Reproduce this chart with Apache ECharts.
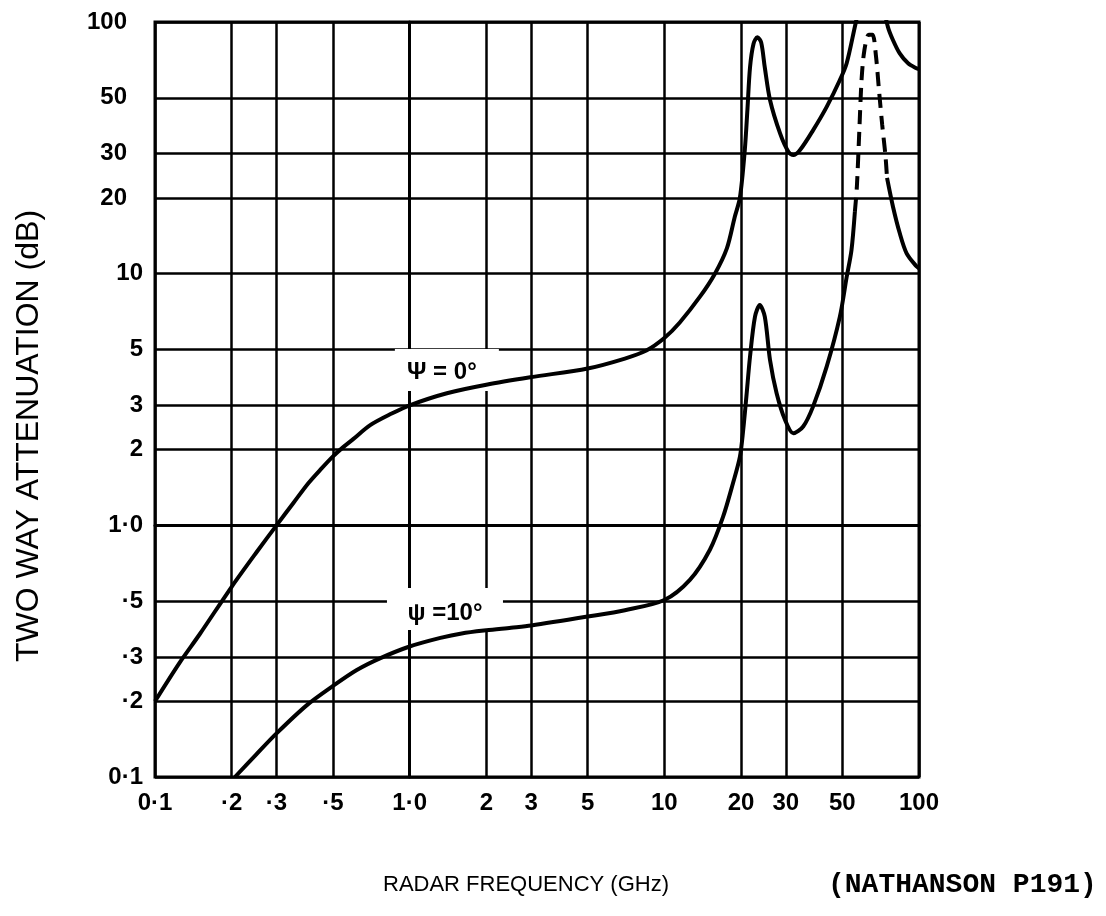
<!DOCTYPE html>
<html><head><meta charset="utf-8">
<script src="https://cdn.jsdelivr.net/npm/echarts@6/dist/echarts.min.js"></script>
<style>html,body{margin:0;padding:0;background:#fff}#c{width:1106px;height:916px}</style>
</head><body><div id="c"></div>
<script>
// ---- tick values and labels ----
const xTickValues = [0.1, 0.2, 0.3, 0.5, 1, 2, 3, 5, 10, 20, 30, 50, 100];
const xTickLabels = ['0·1', '·2', '·3', '·5', '1·0', '2', '3', '5', '10', '20', '30', '50', '100'];
const yTickValues = [0.1, 0.2, 0.3, 0.5, 1, 2, 3, 5, 10, 20, 30, 50, 100];
const yTickLabels = ['0·1', '·2', '·3', '·5', '1·0', '2', '3', '5', '10', '20', '30', '50', '100'];

// ---- psi = 0 deg curve (GHz, dB) ----
const psi0FreqA = [0.1, 0.125, 0.15, 0.2, 0.25, 0.3, 0.35, 0.4, 0.45, 0.5, 0.55, 0.6, 0.7, 0.85, 1.0, 1.4, 2, 3, 5, 7, 8.5, 10, 11.5, 13.8, 15.8, 17.6, 18.9, 19.8, 20.7, 21.2, 21.7, 22.4, 23.2, 24.0, 24.8, 26, 28.5, 30.7, 32.1, 34.1, 38.4, 43.4, 48.9, 52, 56, 59.4];
const psi0DbA   = [0.2, 0.285, 0.37, 0.57, 0.78, 1.0, 1.23, 1.47, 1.68, 1.88, 2.05, 2.2, 2.5, 2.78, 3.0, 3.35, 3.62, 3.88, 4.2, 4.6, 4.95, 5.55, 6.4, 8.1, 10, 12.6, 16.8, 20, 31, 45, 66, 82, 87, 83, 66, 49, 36, 30.5, 29.6, 31, 37.2, 46, 58.8, 68.6, 95.8, 125];
const psi0FreqB = [72, 75.5, 79, 84, 90.6, 97.7, 100];
const psi0DbB   = [120, 95.5, 84.8, 75, 68.5, 65.5, 65];

// ---- psi = 10 deg curve (GHz, dB) ----
const psi10FreqA = [0.206, 0.25, 0.3, 0.395, 0.5, 0.62, 0.764, 1.0, 1.32, 1.6, 2, 2.5, 3, 5, 7, 10, 12.6, 15.1, 17, 18.6, 19.8, 20.4, 21, 21.7, 22.7, 23.7, 24.8, 26, 27.6, 29.8, 32.1, 35.1, 38.4, 43.4, 48.9, 52, 54.3, 56];
const psi10DbA   = [0.1, 0.123, 0.149, 0.193, 0.23, 0.266, 0.296, 0.33, 0.357, 0.372, 0.383, 0.392, 0.40, 0.434, 0.46, 0.505, 0.607, 0.80, 1.08, 1.47, 1.87, 2.39, 3.25, 4.68, 6.75, 7.5, 6.75, 4.54, 3.35, 2.62, 2.32, 2.47, 2.97, 4.27, 6.75, 9.7, 12.4, 17.6];
const psi10FreqDash = [56, 57, 58.3, 59.5, 61, 63.5, 65.7, 67.7, 69.6, 71.7, 73.8, 74.9];
const psi10DbDash   = [17.6, 22, 37, 59, 77, 89, 89, 74, 54, 39, 29.6, 24];
const psi10FreqB = [74.9, 79, 84, 89.4, 97.7, 100];
const psi10DbB   = [24, 18.5, 14.5, 12.05, 10.7, 10.5];

// ---- curve annotations: text and anchor (GHz, dB) ----
const annoText = ['Ψ = 0°', 'ψ =10°'];
const annoFreq = [1.40, 1.376];
const annoDb   = [4.14, 0.465];

const lg = Math.log10;
function pairs(fs, ds) { return fs.map((f, i) => [lg(f), lg(ds[i])]); }
function idx(values, v) { return values.findIndex(t => Math.abs(lg(t) - v) < 1e-6); }

const lineBase = { type: 'line', symbol: 'none', smooth: 0.3, clip: true, silent: true, z: 3 };
const solid = { color: '#000', width: 4 };
const tickFont = { color: '#000', fontFamily: 'Liberation Sans', fontWeight: 'bold', fontSize: 24 };

const titles = [
  { type: 'text', x: 29, y: 436, rotation: Math.PI / 2, silent: true, z: 10,
    style: { text: 'TWO WAY ATTENUATION (dB)', fill: '#000', font: '32px "Liberation Sans"', align: 'center', verticalAlign: 'middle' } },
  { type: 'text', x: 526, y: 885, silent: true, z: 10,
    style: { text: 'RADAR FREQUENCY (GHz)', fill: '#000', font: '22px "Liberation Sans"', align: 'center', verticalAlign: 'middle' } },
  { type: 'text', x: 828, y: 885, silent: true, z: 10,
    style: { text: '(NATHANSON P191)', fill: '#000', font: 'bold 28px "Liberation Mono"', align: 'left', verticalAlign: 'middle' } }
];

const chart = echarts.init(document.getElementById('c'), null, { renderer: 'canvas' });
chart.setOption({
  backgroundColor: '#fff',
  animation: false,
  grid: { left: 155, right: 187, top: 22, bottom: 139, show: true, borderColor: '#000', borderWidth: 3, backgroundColor: 'transparent' },
  xAxis: {
    type: 'value', min: -1, max: 2,
    axisLine: { show: true, lineStyle: { color: '#000', width: 3 } },
    axisTick: { show: false, customValues: xTickValues.map(lg) },
    axisLabel: Object.assign({ customValues: xTickValues.map(lg), margin: 14,
      formatter: v => { const i = idx(xTickValues, v); return i >= 0 ? xTickLabels[i] : ''; } }, tickFont),
    splitLine: { show: true, lineStyle: { color: '#000', width: 2.5 } }
  },
  yAxis: {
    type: 'value', min: -1, max: 2,
    axisLine: { show: true, lineStyle: { color: '#000', width: 3 } },
    axisTick: { show: false, customValues: yTickValues.map(lg) },
    axisLabel: Object.assign({ customValues: yTickValues.map(lg), margin: 12,
      formatter: v => { const i = idx(yTickValues, v); if (i < 0) return ''; return yTickValues[i] >= 20 ? '{u|' + yTickLabels[i] + '}' : yTickLabels[i]; },
      rich: { u: Object.assign({ padding: [0, 16, 0, 0] }, tickFont) } }, tickFont),
    splitLine: { show: true, lineStyle: { color: '#000', width: 2.5 } }
  },
  series: [
    Object.assign({}, lineBase, { name: 'ψ = 0°', data: pairs(psi0FreqA, psi0DbA), lineStyle: solid }),
    Object.assign({}, lineBase, { name: 'ψ = 0° (b)', data: pairs(psi0FreqB, psi0DbB), lineStyle: solid }),
    Object.assign({}, lineBase, { name: 'ψ = 10°', data: pairs(psi10FreqA, psi10DbA), lineStyle: solid }),
    Object.assign({}, lineBase, { name: 'ψ = 10° (dashed)', data: pairs(psi10FreqDash, psi10DbDash), lineStyle: { color: '#000', width: 4, type: [14, 8] } }),
    Object.assign({}, lineBase, { name: 'ψ = 10° (b)', data: pairs(psi10FreqB, psi10DbB), lineStyle: solid })
  ],
  graphic: titles
});

// annotation boxes (white backgrounds masking the grid) placed via the chart's own coordinate system
const boxW = [104, 116], boxH = [42, 42], textDx = [-5, 0], textDy = [2, 4];
const annos = [];
annoText.forEach((t, i) => {
  const p = chart.convertToPixel({ gridIndex: 0 }, [lg(annoFreq[i]), lg(annoDb[i])]);
  annos.push({ type: 'rect', silent: true, z: 1, shape: { x: p[0] - boxW[i] / 2, y: p[1] - boxH[i] / 2, width: boxW[i], height: boxH[i] }, style: { fill: '#fff' } });
  annos.push({ type: 'text', silent: true, z: 10, x: p[0] + textDx[i], y: p[1] + textDy[i],
    style: { text: t, fill: '#000', font: 'bold 24px "Liberation Sans"', align: 'center', verticalAlign: 'middle' } });
});
chart.setOption({ graphic: titles.concat(annos) });
</script></body></html>
